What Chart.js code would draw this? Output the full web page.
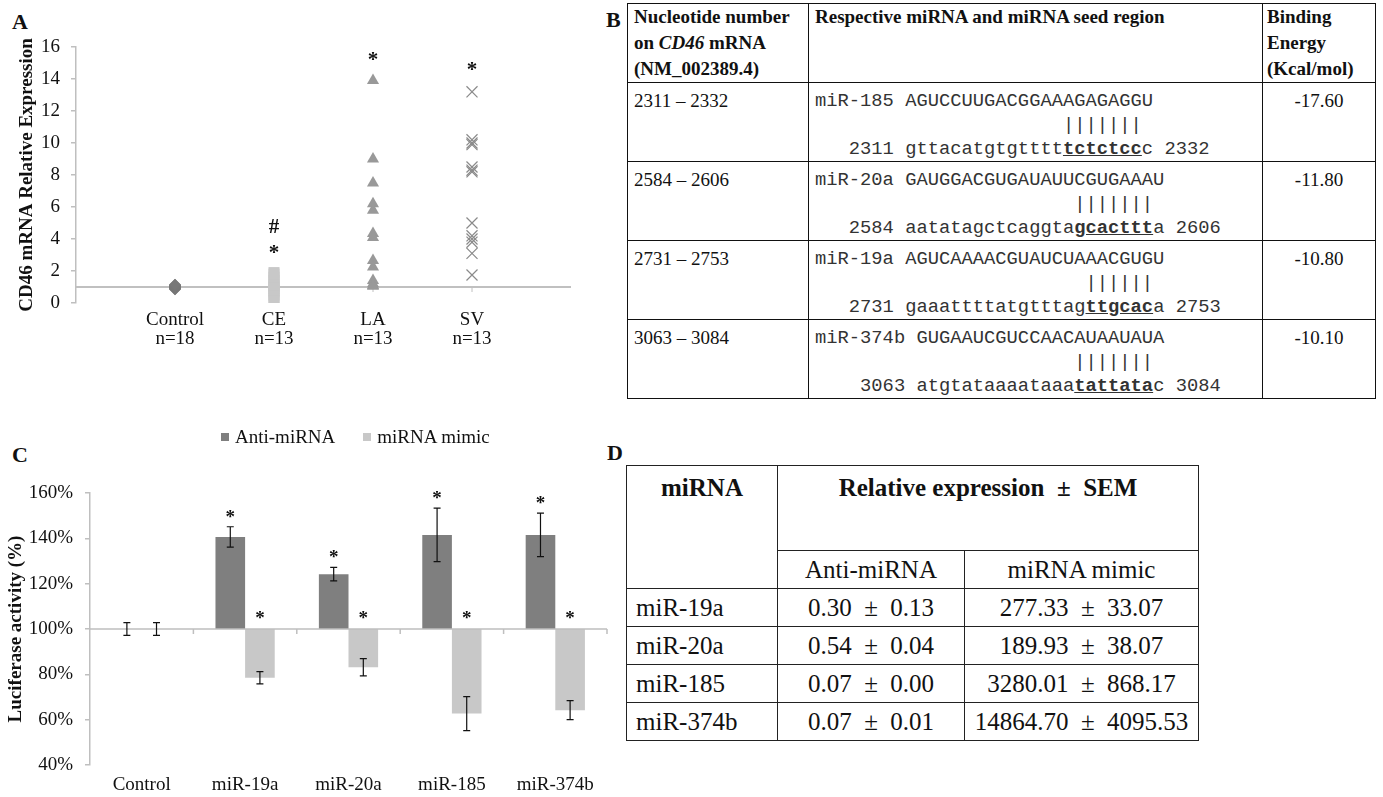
<!DOCTYPE html>
<html>
<head>
<meta charset="utf-8">
<script src="https://cdn.jsdelivr.net/npm/chart.js@4.4.1/dist/chart.umd.min.js"></script>
<style>
  body { margin: 0; background: #fff; }
  #page { position: relative; width: 1383px; height: 797px; overflow: hidden; font-family: 'Liberation Serif', 'Times New Roman', serif; color: #111; }
  canvas { position: absolute; }
  .letter { position: absolute; font-weight: bold; font-size: 22px; line-height: 22px; }
  #legendC { position: absolute; left: 221px; top: 426px; font-size: 19px; line-height: 22px; display: flex; align-items: center; }
  #legendC span.sw { display: inline-block; width: 8px; height: 8px; margin-right: 6px; }
  #legendC span.it { margin-right: 28px; }
  table { position: absolute; border-collapse: collapse; table-layout: fixed; }
  #tabB { left: 627px; top: 3px; font-size: 19px; }
  #tabB td { border: 1.5px solid #111; vertical-align: top; padding: 0; height: 79px; box-sizing: border-box; }
  #tabB tr.hd td { font-weight: bold; line-height: 26px; }
  #tabB td.c1 { padding-left: 6px; }
  #tabB td.c2 { padding-left: 6px; }
  #tabB td.c3 { padding-left: 4px; }
  #tabB td.e { text-align: center; padding-left: 0; }
  #tabB tr.rw td { padding-top: 6px; line-height: 24px; }
  #tabB pre { margin: 0; font-family: 'Liberation Mono', 'Courier New', monospace; font-size: 18.8px; line-height: 24px; color: #333; }
  #tabD { left: 626px; top: 465px; font-size: 25px; }
  #tabD td, #tabD th { border: 1.5px solid #222; padding: 0; text-align: center; vertical-align: middle; box-sizing: border-box; line-height: 30px; }
  #tabD th { vertical-align: top; padding-top: 7px; }
  #tabD td.l { text-align: left; padding-left: 9px; }
</style>
</head>
<body>
<div id="page">
  <div class="letter" style="left:12px; top:11px;">A</div>
  <div class="letter" style="left:606px; top:9px;">B</div>
  <div class="letter" style="left:12px; top:444px;">C</div>
  <div class="letter" style="left:607px; top:442px;">D</div>
  <canvas id="chartA" width="600" height="360" style="left:0; top:0;"></canvas>
  <canvas id="chartC" width="620" height="372" style="left:0; top:425px;"></canvas>
  <div id="legendC"></div>
  <table id="tabB"></table>
  <table id="tabD"></table>
</div>
<script>
// ---- panel A data ----
const groupsA = ['Control', 'CE', 'LA', 'SV'];
const groupN = ['n=18', 'n=13', 'n=13', 'n=13'];
const controlVals = [0.86, 0.88, 0.9, 0.92, 0.94, 0.96, 0.97, 0.98, 1.0, 1.0, 1.02, 1.03, 1.05, 1.06, 1.08, 1.1, 1.12, 1.14];
const ceVals = [0.15, 0.3, 0.5, 0.7, 0.8, 0.9, 1.0, 1.1, 1.2, 1.4, 1.6, 1.8, 1.9];
const laVals = [13.9, 9.0, 7.5, 6.2, 5.8, 4.35, 4.1, 2.65, 2.25, 1.4, 1.2, 1.1, 1.05];
const svVals = [13.2, 10.2, 10.0, 9.9, 8.5, 8.3, 8.2, 5.0, 4.2, 4.0, 3.8, 3.1, 1.75];
const marksA = [
  { group: 2, y: 4.7, text: '#' },
  { group: 2, y: 3.35, text: '*' },
  { group: 3, y: 15.4, text: '*' },
  { group: 4, y: 14.75, text: '*' }
];

// ---- panel C data ----
const mirs = ['Control', 'miR-19a', 'miR-20a', 'miR-185', 'miR-374b'];
const antiVals = [100, 140.6, 124.2, 141.5, 141.5];
const antiErr = [2.8, 4.5, 3.0, 11.8, 9.6];
const mimicVals = [100, 78.5, 83.1, 62.7, 64.2];
const mimicErr = [2.8, 2.7, 3.8, 7.5, 4.2];
const antiStars = ['', '*', '*', '*', '*'];
const mimicStars = ['', '*', '*', '*', '*'];
const seriesNames = ['Anti-miRNA', 'miRNA mimic'];
const seriesColors = ['#7f7f7f', '#c8c8c8'];

// ---- panel B table ----
const siteRanges = ['2311 – 2332', '2584 – 2606', '2731 – 2753', '3063 – 3084'];
const mirNames = ['miR-185', 'miR-20a', 'miR-19a', 'miR-374b'];
const mirSeqs = ['AGUCCUUGACGGAAAGAGAGGU', 'GAUGGACGUGAUAUUCGUGAAAU', 'AGUCAAAACGUAUCUAAACGUGU', 'GUGAAUCGUCCAACAUAAUAUA'];
const siteStart = ['2311', '2584', '2731', '3063'];
const siteEnd = ['2332', '2606', '2753', '3084'];
const mrnaBefore = ['gttacatgtgtttt', 'aatatagctcaggta', 'gaaattttatgtttag', 'atgtataaaataaa'];
const mrnaSeed = ['tctctcc', 'gcacttt', 'ttgcac', 'tattata'];
const mrnaAfter = ['c', 'a', 'a', 'c'];
const bindingEnergy = ['-17.60', '-11.80', '-10.80', '-10.10'];

// ---- panel D table ----
const exprMirs = ['miR-19a', 'miR-20a', 'miR-185', 'miR-374b'];
const antiExpr = ['0.30', '0.54', '0.07', '0.07'];
const antiSem = ['0.13', '0.04', '0.00', '0.01'];
const mimicExpr = ['277.33', '189.93', '3280.01', '14864.70'];
const mimicSem = ['33.07', '38.07', '868.17', '4095.53'];

const serif = "'Liberation Serif', 'Times New Roman', serif";
Chart.defaults.font.family = serif;
Chart.defaults.color = '#111';
Chart.defaults.animation = false;

// ---------- Panel A ----------
const panelAExtras = {
  id: 'panelAExtras',
  beforeDatasetsDraw(chart) {
    const { ctx, chartArea: ca, scales: { x, y } } = chart;
    const y1 = y.getPixelForValue(1);
    ctx.save();
    ctx.strokeStyle = '#c0c0c0';
    ctx.lineWidth = 2;
    ctx.beginPath();
    ctx.moveTo(ca.left, y1);
    ctx.lineTo(ca.right, y1);
    ctx.stroke();
    ctx.lineWidth = 1;
    ctx.beginPath();
    groupsA.forEach((g, i) => {
      const px = x.getPixelForValue(i + 1);
      ctx.moveTo(px, y1);
      ctx.lineTo(px, y1 + 5);
    });
    ctx.stroke();
    ctx.restore();
  },
  afterDatasetsDraw(chart) {
    const { ctx, scales: { x, y } } = chart;
    ctx.save();
    ctx.fillStyle = '#111';
    ctx.font = 'bold 21px ' + serif;
    ctx.textAlign = 'center';
    ctx.textBaseline = 'middle';
    marksA.forEach(m => {
      ctx.fillText(m.text, x.getPixelForValue(m.group), y.getPixelForValue(m.y) + (m.text === '*' ? 4 : 0));
    });
    ctx.restore();
  }
};

const toPts = (vals, g) => vals.map(v => ({ x: g, y: v }));

new Chart(document.getElementById('chartA'), {
  type: 'scatter',
  data: {
    datasets: [
      { data: toPts(controlVals, 1), pointStyle: 'rectRot', radius: 6, backgroundColor: '#787878', borderColor: '#787878', borderWidth: 0 },
      { data: toPts(ceVals, 2), pointStyle: 'rect', radius: 7.8, backgroundColor: '#c8c8c8', borderColor: '#c8c8c8', borderWidth: 0 },
      { data: toPts(laVals, 3), pointStyle: 'triangle', radius: 7, backgroundColor: '#999999', borderColor: '#999999', borderWidth: 0 },
      { data: toPts(svVals, 4), pointStyle: 'crossRot', radius: 7.8, backgroundColor: '#8a8a8a', borderColor: '#8a8a8a', borderWidth: 1.2 }
    ]
  },
  options: {
    responsive: false,
    events: [],
    layout: { padding: { top: 47, right: 29, left: 0, bottom: 0 } },
    plugins: { legend: { display: false }, tooltip: { enabled: false } },
    scales: {
      x: {
        type: 'linear', min: 0, max: 5,
        afterBuildTicks: s => { s.ticks = groupsA.map((g, i) => ({ value: i + 1 })); },
        afterFit: s => { s.height = 57; },
        ticks: {
          autoSkip: false, maxRotation: 0, padding: 0,
          font: { size: 19, lineHeight: 1.0 },
          callback: v => [groupsA[v - 1], groupN[v - 1]]
        },
        grid: { display: false },
        border: { display: false }
      },
      y: {
        min: 0, max: 16,
        afterFit: s => { s.width = 76; },
        ticks: { stepSize: 2, padding: 11, font: { size: 19 } },
        grid: { display: true, drawOnChartArea: false, drawTicks: true, tickLength: 5, color: '#bfbfbf', lineWidth: 1.5 },
        border: { display: true, color: '#bfbfbf', width: 1.5 },
        title: { display: true, text: 'CD46 mRNA Relative Expression', font: { size: 19, weight: 'bold' }, padding: { top: 16, bottom: 0 } }
      }
    }
  },
  plugins: [panelAExtras]
});

// ---------- Panel C ----------
const panelCExtras = {
  id: 'panelCExtras',
  afterDatasetsDraw(chart) {
    const { ctx, chartArea: ca, scales: { x, y } } = chart;
    const y100 = y.getPixelForValue(100);
    const half = (x.getPixelForValue(1) - x.getPixelForValue(0)) / 2;
    ctx.save();
    ctx.strokeStyle = '#bfbfbf';
    ctx.lineWidth = 1.5;
    ctx.beginPath();
    ctx.moveTo(ca.left, y100);
    ctx.lineTo(ca.right, y100);
    mirs.forEach((m, i) => {
      const px = x.getPixelForValue(i) + half;
      ctx.moveTo(px, y100);
      ctx.lineTo(px, y100 + 5);
    });
    ctx.stroke();

    // error bars
    ctx.strokeStyle = '#111';
    ctx.lineWidth = 1.2;
    [[antiVals, antiErr], [mimicVals, mimicErr]].forEach(([vals, errs], d) => {
      chart.getDatasetMeta(d).data.forEach((bar, i) => {
        const top = y.getPixelForValue(vals[i] + errs[i]);
        const bot = y.getPixelForValue(vals[i] - errs[i]);
        ctx.beginPath();
        ctx.moveTo(bar.x, top); ctx.lineTo(bar.x, bot);
        ctx.moveTo(bar.x - 3.5, top); ctx.lineTo(bar.x + 3.5, top);
        ctx.moveTo(bar.x - 3.5, bot); ctx.lineTo(bar.x + 3.5, bot);
        ctx.stroke();
      });
    });

    // significance stars
    ctx.fillStyle = '#111';
    ctx.font = 'bold 19px ' + serif;
    ctx.textAlign = 'center';
    ctx.textBaseline = 'middle';
    chart.getDatasetMeta(0).data.forEach((bar, i) => {
      if (antiStars[i]) ctx.fillText(antiStars[i], bar.x, y.getPixelForValue(antiVals[i] + antiErr[i]) - 9);
    });
    chart.getDatasetMeta(1).data.forEach((bar, i) => {
      if (mimicStars[i]) ctx.fillText(mimicStars[i], bar.x, y100 - 10);
    });
    ctx.restore();
  }
};

new Chart(document.getElementById('chartC'), {
  type: 'bar',
  data: {
    labels: mirs,
    datasets: [
      { label: seriesNames[0], data: antiVals.map(v => [100, v]), backgroundColor: seriesColors[0] },
      { label: seriesNames[1], data: mimicVals.map(v => [100, v]), backgroundColor: seriesColors[1] }
    ]
  },
  options: {
    responsive: false,
    events: [],
    categoryPercentage: 0.573,
    barPercentage: 1.0,
    layout: { padding: { top: 68, right: 13, left: 0, bottom: 0 } },
    plugins: { legend: { display: false }, tooltip: { enabled: false } },
    scales: {
      x: {
        afterFit: s => { s.height = 32; },
        ticks: { padding: 3, font: { size: 19, lineHeight: 1.0 }, autoSkip: false, maxRotation: 0 },
        grid: { display: false },
        border: { display: false }
      },
      y: {
        min: 40, max: 160,
        afterFit: s => { s.width = 90; },
        ticks: { stepSize: 20, padding: 12, font: { size: 19 }, callback: v => v + '%' },
        grid: { display: true, drawOnChartArea: false, drawTicks: true, tickLength: 5, color: '#bfbfbf', lineWidth: 1.5 },
        border: { display: true, color: '#bfbfbf', width: 1.5 },
        title: { display: true, text: 'Luciferase activity (%)', font: { size: 19, weight: 'bold' }, padding: { top: 5, bottom: 0 } }
      }
    }
  },
  plugins: [panelCExtras]
});

// legend for C
document.getElementById('legendC').innerHTML = seriesNames.map((n, i) =>
  `<span class="sw" style="background:${seriesColors[i]}"></span><span class="it">${n}</span>`).join('');

// ---------- Table B ----------
let bHtml = `<colgroup><col style="width:181px"><col style="width:454px"><col style="width:113px"></colgroup>
<tr class="hd"><td class="c1">Nucleotide number<br>on <i>CD46</i> mRNA<br>(NM_002389.4)</td>
<td class="c2">Respective miRNA and miRNA seed region</td>
<td class="c3">Binding<br>Energy<br>(Kcal/mol)</td></tr>`;
siteRanges.forEach((r, i) => {
  const off = mirNames[i].length + 1;
  const l1 = mirNames[i] + ' ' + mirSeqs[i];
  const l2 = ' '.repeat(off + mrnaBefore[i].length) + '|'.repeat(mrnaSeed[i].length);
  const l3 = ' '.repeat(off - siteStart[i].length - 1) + siteStart[i] + ' ' + mrnaBefore[i] +
    '<b><u>' + mrnaSeed[i] + '</u></b>' + mrnaAfter[i] + ' ' + siteEnd[i];
  bHtml += `<tr class="rw"><td class="c1">${r}</td><td class="c2"><pre>${l1}\n${l2}\n${l3}</pre></td><td class="e">${bindingEnergy[i]}</td></tr>`;
});
document.getElementById('tabB').innerHTML = bHtml;

// ---------- Table D ----------
const pm = '\u2002\u00b1\u2002';
let dHtml = `<colgroup><col style="width:151px"><col style="width:187px"><col style="width:234px"></colgroup>
<tr style="height:85px"><th rowspan="2">miRNA</th><th colspan="2">Relative expression${pm}SEM</th></tr>
<tr style="height:38px"><td>Anti-miRNA</td><td>miRNA mimic</td></tr>`;
exprMirs.forEach((m, i) => {
  dHtml += `<tr style="height:38px"><td class="l">${m}</td><td>${antiExpr[i]}${pm}${antiSem[i]}</td><td>${mimicExpr[i]}${pm}${mimicSem[i]}</td></tr>`;
});
document.getElementById('tabD').innerHTML = dHtml;
</script>
</body>
</html>
